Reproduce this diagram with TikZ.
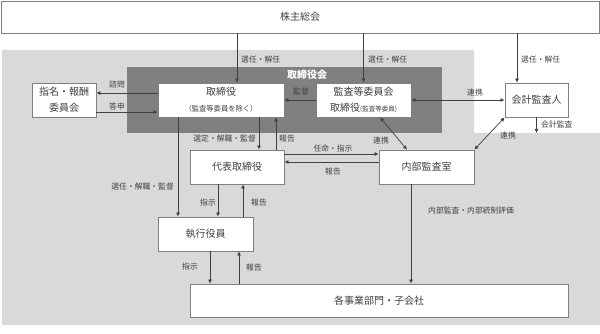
\documentclass[tikz,border=0pt]{standalone}
\usepackage{fontspec}
\newfontfamily\jp{Noto Sans CJK JP}
\usetikzlibrary{arrows.meta}
\definecolor{bglight}{HTML}{D9D9D9}
\definecolor{bgdark}{HTML}{808080}
\definecolor{ink}{HTML}{404040}
\tikzset{
  box/.style={draw=gray, fill=white, line width=0.8pt, inner sep=0pt, align=center,
    text=ink, font=\jp\fontsize{10}{16}\selectfont},
  lbl/.style={inner sep=0pt, text=ink, font=\jp\fontsize{7.8}{9}\selectfont},
  arr/.style={draw=ink, line width=0.7pt, -{Latex[length=4pt,width=4pt]}},
  darr/.style={arr, {Latex[length=4pt,width=4pt]}-{Latex[length=4pt,width=4pt]}},
}
\begin{document}
\begin{tikzpicture}[x=1pt,y=-1pt]
  \useasboundingbox (0,0) rectangle (600,334);
  % shaded areas
  \fill[bglight] (2,50) -- (474,50) -- (474,133) -- (600,133) -- (600,325) -- (2,325) -- cycle;
  \fill[bgdark] (127,67) rectangle (442,133);
  \node[font=\jp\bfseries\fontsize{10}{12}\selectfont, text=white, inner sep=0pt] (board) at (307,75) {取締役会};

  % boxes
  \node[box, minimum width=598pt, minimum height=32pt] (meeting) at (300,17) {株主総会};
  \node[box, minimum width=64pt, minimum height=34pt] (nomination) at (64,100) {指名・報酬\\委員会};
  \node[box, minimum width=126pt, minimum height=34pt] (directors) at (221,100)
    {取締役\\{\fontsize{7.3}{9}\selectfont（監査等委員を除く）}};
  \node[box, minimum width=95pt, minimum height=34pt] (auditcom) at (363.5,100)
    {監査等委員会\\取締役{\fontsize{6.5}{9}\selectfont(監査等委員)}};
  \node[box, minimum width=63pt, minimum height=34pt] (auditor) at (536.5,100) {会計監査人};
  \node[box, minimum width=94pt, minimum height=34pt] (ceo) at (237,167) {代表取締役};
  \node[box, minimum width=95pt, minimum height=34pt] (internal) at (426.5,167) {内部監査室};
  \node[box, minimum width=95pt, minimum height=34pt] (officers) at (205.5,234) {執行役員};
  \node[box, minimum width=378pt, minimum height=33pt] (units) at (379,300.5) {各事業部門・子会社};

  % from the shareholders
  \draw[arr] ([xshift=16pt]directors.north |- meeting.south) -- ([xshift=16pt]directors.north);
  \draw[arr] (auditcom.north |- meeting.south) -- (auditcom.north);
  \draw[arr] ([xshift=-19.5pt]auditor.north |- meeting.south) -- ([xshift=-19.5pt]auditor.north);
  \node[lbl, anchor=west] (l1) at (241,60) {選任・解任};
  \node[lbl, anchor=west] (l2) at (368,60) {選任・解任};
  \node[lbl, anchor=west] (l3) at (521,60) {選任・解任};

  % board and committee
  \draw[arr] ([yshift=7pt]directors.west) -- ([yshift=7pt]nomination.east);
  \draw[arr] ([yshift=-12pt]nomination.east) -- ([yshift=-12pt]directors.west);
  \node[lbl] (l4) at (117,85) {諮問};
  \node[lbl] (l5) at (117,106) {答申};
  \draw[arr] (auditcom.west) -- (directors.east);
  \node[lbl] (l6) at (301,92) {監督};
  \draw[darr] (auditcom.east) -- (auditor.west);
  \node[lbl] (l7) at (475,93) {連携};

  % directors and CEO
  \draw[arr] ([xshift=22pt]ceo.north |- directors.south) -- ([xshift=22pt]ceo.north);
  \draw[arr] ([xshift=39pt]ceo.north) -- ([xshift=39pt]ceo.north |- directors.south);
  \node[lbl, anchor=east] (l8) at (256,139) {選定・解職・監督};
  \node[lbl] (l9) at (287,139) {報告};
  \draw[arr] ([xshift=-27.5pt]officers.north |- directors.south) -- ([xshift=-27.5pt]officers.north);
  \node[lbl, anchor=east] (l10) at (174,187) {選任・解職・監督};

  % CEO and officers
  \draw[arr] ([xshift=12.5pt]officers.north |- ceo.south) -- ([xshift=12.5pt]officers.north);
  \draw[arr] ([xshift=37.5pt]officers.north) -- ([xshift=37.5pt]officers.north |- ceo.south);
  \node[lbl] (l11) at (208,203) {指示};
  \node[lbl] (l12) at (259,203) {報告};
  \draw[arr] ([xshift=4.5pt]officers.south) -- ([xshift=4.5pt]officers.south |- units.north);
  \draw[arr] ([xshift=33.5pt]officers.south |- units.north) -- ([xshift=33.5pt]officers.south);
  \node[lbl] (l13) at (190,267) {指示};
  \node[lbl] (l14) at (254,268) {報告};

  % CEO and internal audit
  \draw[arr] ([yshift=13pt]ceo.east) -- ([yshift=13pt]ceo.east -| internal.west);
  \draw[arr] ([yshift=5pt]ceo.east -| internal.west) -- ([yshift=5pt]ceo.east);
  \node[lbl] (l15) at (333,149) {任命・指示};
  \node[lbl] (l16) at (333,172) {報告};

  % audit links
  \draw[darr] ([xshift=16.5pt]auditcom.south) -- ([xshift=-19.5pt]internal.north);
  \node[lbl] (l17) at (381,141) {連携};
  \draw[darr] (internal.north east) -- (auditor.south west);
  \node[lbl] (l18) at (508,136) {連携};
  \coordinate (auditend) at (536.5,133);
  \draw[arr] (auditor.south) -- (auditend);
  \node[lbl, anchor=west] (l19) at (541,125) {会計監査};
  \draw[arr] ([xshift=-15.5pt]internal.south) -- ([xshift=-15.5pt]internal.south |- units.north);
  \node[lbl, anchor=west] (l20) at (428,211) {内部監査・内部統制評価};
\end{tikzpicture}
\end{document}
